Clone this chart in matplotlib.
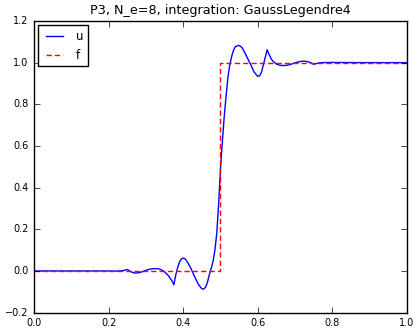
import numpy as np
import matplotlib
matplotlib.use("Agg")
import matplotlib.pyplot as plt

# u: P3 approximation
x_u = [0.0, 0.125, 0.2, 0.22, 0.24, 0.25, 0.26, 0.27, 0.28, 0.29, 0.30, 0.31, 0.32,
       0.33, 0.34, 0.35, 0.36, 0.37, 0.375, 0.38, 0.385, 0.39, 0.395, 0.40, 0.405,
       0.41, 0.42, 0.43, 0.44, 0.45, 0.455, 0.46, 0.465, 0.47, 0.475, 0.48, 0.485,
       0.49, 0.495, 0.50, 0.505, 0.51, 0.515, 0.52, 0.525, 0.53, 0.535, 0.54, 0.548,
       0.555, 0.56, 0.57, 0.58, 0.59, 0.60, 0.605, 0.61, 0.615, 0.62, 0.625, 0.63,
       0.635, 0.64, 0.65, 0.66, 0.67, 0.68, 0.69, 0.70, 0.71, 0.72, 0.73, 0.74, 0.75,
       0.76, 0.77, 0.80, 0.875, 1.0]
y_u = [0.0, 0.0, 0.0, -0.001, 0.002, 0.007, -0.004, -0.010, -0.009, -0.004, 0.003,
       0.008, 0.011, 0.011, 0.007, -0.004, -0.022, -0.048, -0.066, -0.02, 0.015, 0.042,
       0.057, 0.062, 0.058, 0.047, 0.015, -0.025, -0.062, -0.086, -0.087, -0.078,
       -0.055, -0.018, 0.012, 0.045, 0.10, 0.18, 0.32, 0.49, 0.62, 0.74, 0.84, 0.93,
       0.99, 1.03, 1.06, 1.077, 1.083, 1.077, 1.066, 1.03, 0.995, 0.955, 0.934, 0.937,
       0.955, 0.99, 1.025, 1.062, 1.04, 1.022, 1.008, 0.993, 0.987, 0.986, 0.988,
       0.993, 0.999, 1.004, 1.007, 1.006, 1.001, 0.992, 0.997, 1.0, 1.001, 1.0, 1.0]

# f: step function
x_f = [0.0, 0.5, 0.5, 1.0]
y_f = [0.0, 0.0, 1.0, 1.0]

plt.style.use('classic')
plt.rcParams['savefig.facecolor'] = 'white'
plt.rcParams['figure.facecolor'] = 'white'

fig = plt.figure(figsize=(4.17, 3.31), dpi=100)
ax = fig.add_axes([0.0815, 0.0556, 0.8945, 0.881])
ax.plot(x_u, y_u, 'b-', label='u')
ax.plot(x_f, y_f, 'r--', dashes=(3.8, 2.2), label='f')
ax.set_xlim(0, 1)
ax.set_ylim(-0.2, 1.2)
ax.tick_params(labelsize=7)
ax.set_title('P3, N_e=8, integration: GaussLegendre4', fontsize=9.2)
ax.legend(loc='upper left', fontsize=8.5, borderaxespad=0.35)
fig.savefig('out.png', dpi=100)
